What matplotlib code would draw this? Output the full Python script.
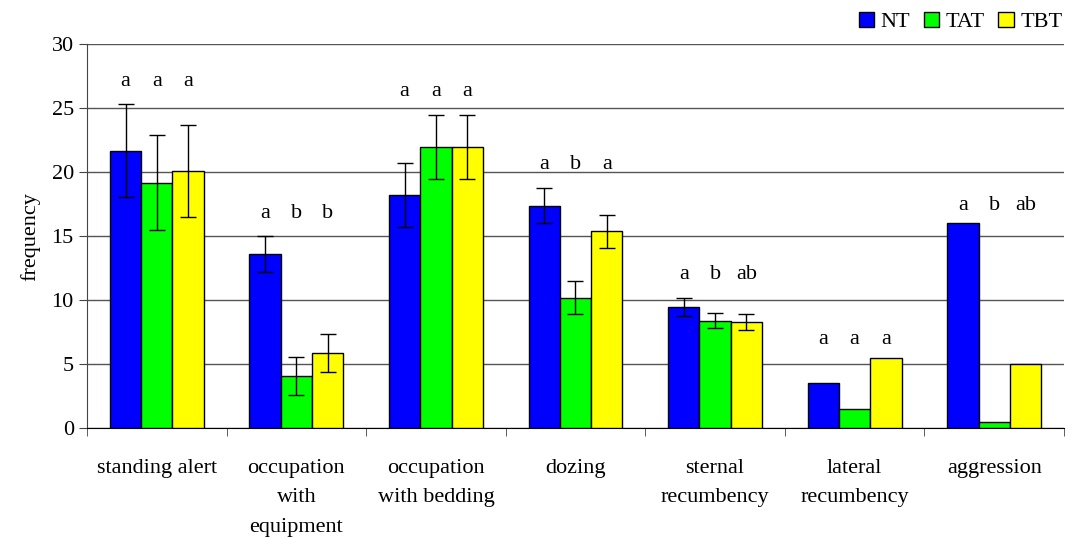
import numpy as np
import matplotlib
matplotlib.use("Agg")
import matplotlib.pyplot as plt
from matplotlib.patches import Patch

plt.rcParams["font.family"] = "serif"
plt.rcParams["font.serif"] = ["Liberation Serif", "Times New Roman", "DejaVu Serif"]

# behaviour categories and group means / SE
categories = [
    "standing alert",
    "occupation\nwith\nequipment",
    "occupation\nwith bedding",
    "dozing",
    "sternal\nrecumbency",
    "lateral\nrecumbency",
    "aggression",
]
groups = ["NT", "TAT", "TBT"]
colors = ["#0000ff", "#00ff00", "#ffff00"]

nt = [21.7, 13.6, 18.2, 17.4, 9.5, 3.5, 16.0]
tat = [19.2, 4.1, 22.0, 10.2, 8.4, 1.5, 0.5]
tbt = [20.1, 5.9, 22.0, 15.4, 8.3, 5.5, 5.0]

nt_err = [3.6, 1.4, 2.5, 1.4, 0.7, 0, 0]
tat_err = [3.7, 1.5, 2.5, 1.3, 0.6, 0, 0]
tbt_err = [3.6, 1.5, 2.5, 1.3, 0.6, 0, 0]

# significance letters per category (NT, TAT, TBT)
letters = [
    ["a", "a", "a"],
    ["a", "b", "b"],
    ["a", "a", "a"],
    ["a", "b", "a"],
    ["a", "b", "ab"],
    ["a", "a", "a"],
    ["a", "b", "ab"],
]

values = np.array([nt, tat, tbt])
errors = np.array([nt_err, tat_err, tbt_err])

fig = plt.figure(figsize=(10.7, 5.38), dpi=100)
ax = fig.add_axes([0.0813, 0.204, 0.9131, 0.7137])

x = np.arange(len(categories))
width = 0.224
offsets = [-width, 0, width]

for i in range(3):
    ax.bar(x + offsets[i], values[i], width, color=colors[i],
           edgecolor="black", linewidth=1.0, zorder=3)
    has_err = errors[i] > 0
    ax.errorbar((x + offsets[i])[has_err], values[i][has_err],
                yerr=errors[i][has_err], fmt="none", ecolor="black",
                elinewidth=1.0, capsize=6, capthick=1.0, zorder=4)

# letters above each group
for j in range(len(categories)):
    top = (values[:, j] + errors[:, j]).max()
    pad = 1.8 if errors[:, j].max() > 0 else 1.4
    for i in range(3):
        ax.text(x[j] + offsets[i], top + pad, letters[j][i], ha="center",
                va="center", fontsize=16)

ax.set_ylim(0, 30)
ax.set_xlim(-0.5, 6.405)
ax.set_yticks(np.arange(0, 31, 5))
ax.yaxis.grid(True, color="#555555", linewidth=1.0, zorder=0)
ax.set_axisbelow(True)

ax.set_xticks(x)
ax.set_xticklabels(categories, fontsize=16, linespacing=1.75)
ax.tick_params(axis="x", which="major", length=0, pad=22)
ax.set_xticks(np.arange(-0.5, 7, 1), minor=True)
ax.tick_params(axis="x", which="minor", length=6, direction="out", color="#444444")
ax.tick_params(axis="y", length=6, direction="out", labelsize=16, color="#444444")

for side in ["top", "right"]:
    ax.spines[side].set_visible(False)
ax.spines["left"].set_color("#444444")
ax.spines["bottom"].set_color("black")

ax.set_ylabel("frequency", fontsize=16, labelpad=8)

handles = [Patch(facecolor=c, edgecolor="black", linewidth=1.0) for c in colors]
fig.legend(handles, groups, loc="upper right", bbox_to_anchor=(1.012, 1.015), ncol=3,
           frameon=False, fontsize=16, handlelength=0.7, handleheight=0.7,
           handletextpad=0.3, columnspacing=0.6)

fig.savefig("out.png", dpi=100)
